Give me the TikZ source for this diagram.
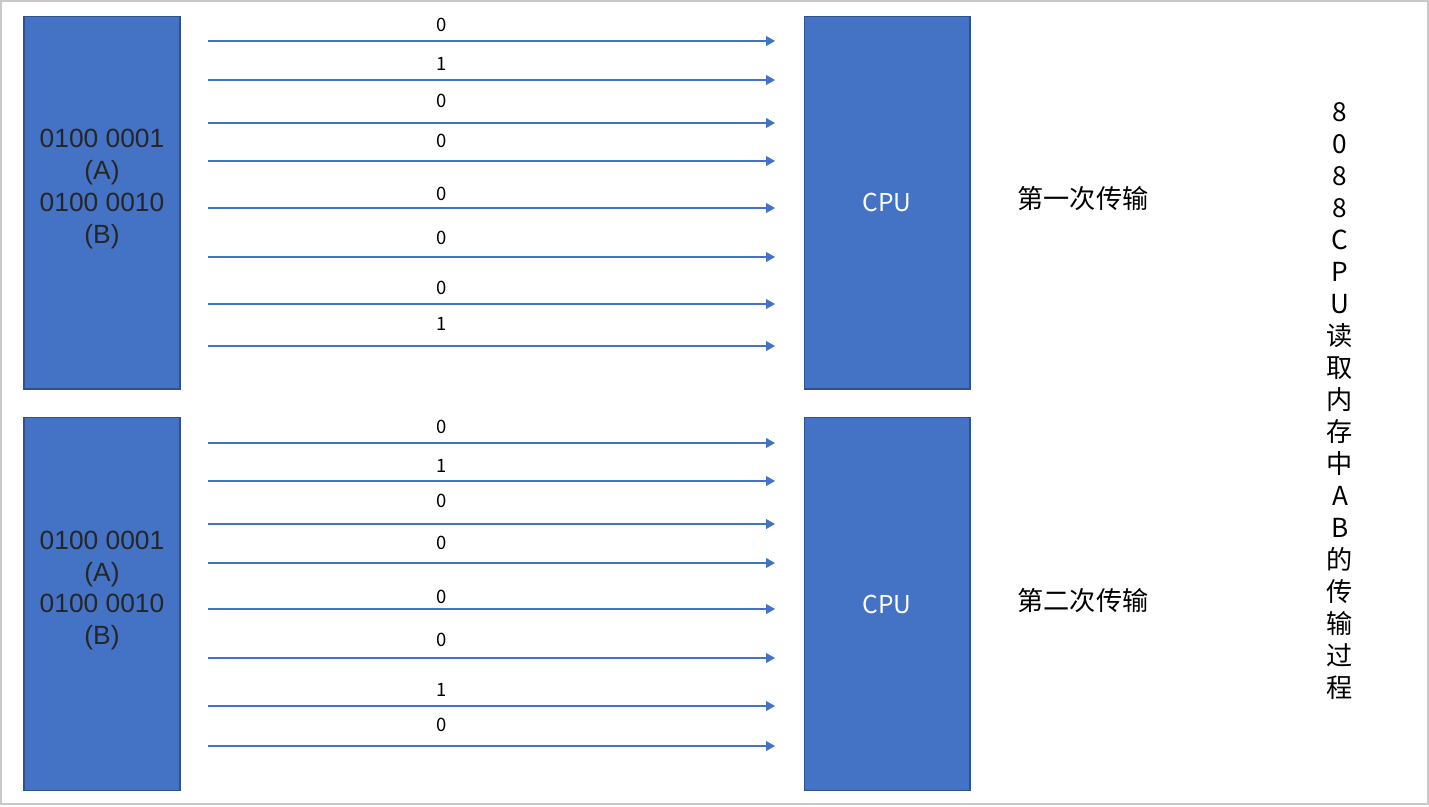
\documentclass[tikz,border=0pt]{standalone}
\usepackage{fontspec}
\setmainfont{Liberation Sans}
\newfontfamily\cjk{Noto Sans CJK SC}
\usetikzlibrary{arrows.meta,positioning}
\definecolor{boxblue}{HTML}{4472C4}
\definecolor{boxedge}{HTML}{2F528F}
\definecolor{memtext}{HTML}{262626}
\definecolor{framegray}{HTML}{C8C8C8}
\tikzset{
    box/.style={draw=boxedge, line width=0.6pt, fill=boxblue, inner sep=0pt, outer sep=0pt, minimum height=7.46cm},
    membox/.style={box, minimum width=3.12cm},
    cpubox/.style={box, minimum width=3.32cm, text=white, font=\cjk\fontsize{14}{17}\selectfont},
    memlabel/.style={text=memtext, align=center, yshift=0.27cm, font=\fontsize{15}{18.1}\selectfont},
    bus/.style={draw=boxblue, line width=0.6pt, -{Triangle[length=5pt, width=5.5pt]}},
    bit/.style={inner sep=0pt, font=\cjk\fontsize{10.5}{12}\selectfont},
    phase/.style={inner sep=0pt, font=\cjk\fontsize{14.9}{17}\selectfont},
    vtitle/.style={inner sep=0pt, align=center, font=\cjk\fontsize{14.9}{18.2}\selectfont}
}

\begin{document}
\begin{tikzpicture}[x=0.02cm, y=-0.02cm]
    \useasboundingbox (0,0) rectangle (1429,806);
    \draw[framegray, line width=0.6pt] (1,1) rectangle (1428,804);

    % Nodes
    \node[membox, label={[memlabel]center:0100 0001\\(A)\\0100 0010\\(B)}] (mem1) at (102,202.5) {};
    \node[membox, label={[memlabel]center:0100 0001\\(A)\\0100 0010\\(B)}] (mem2) at (102,604) {};
    \node[cpubox] (cpu1) at (887,202.5) {CPU};
    \node[cpubox] (cpu2) at (887,604) {CPU};
    \node[phase] (pass1) at (1083,199) {第一次传输};
    \node[phase] (pass2) at (1083,601) {第二次传输};
    \node[vtitle] (title) at (1340,401) {8\\0\\8\\8\\C\\P\\U\\读\\取\\内\\存\\中\\A\\B\\的\\传\\输\\过\\程};

    % first transfer
    \foreach \y/\t/\b [count=\i] in {41/25/0, 80/64/1, 123/101/0, 161/141/0, 208/194/0, 257/238/0, 304/288/0, 346/324/1} {
        \coordinate (s1-\i) at (208,\y);
        \coordinate (e1-\i) at (775,\y);
        \draw[bus] (s1-\i) -- (e1-\i);
        \node[bit] (b1-\i) at (442,\t) {\b};
    }

    % second transfer
    \foreach \y/\t/\b [count=\i] in {443/427/0, 481/466/1, 524/501/0, 563/543/0, 609/597/0, 658/640/0, 706/690/1, 746/725/0} {
        \coordinate (s2-\i) at (208,\y);
        \coordinate (e2-\i) at (775,\y);
        \draw[bus] (s2-\i) -- (e2-\i);
        \node[bit] (b2-\i) at (442,\t) {\b};
    }
\end{tikzpicture}
\end{document}
